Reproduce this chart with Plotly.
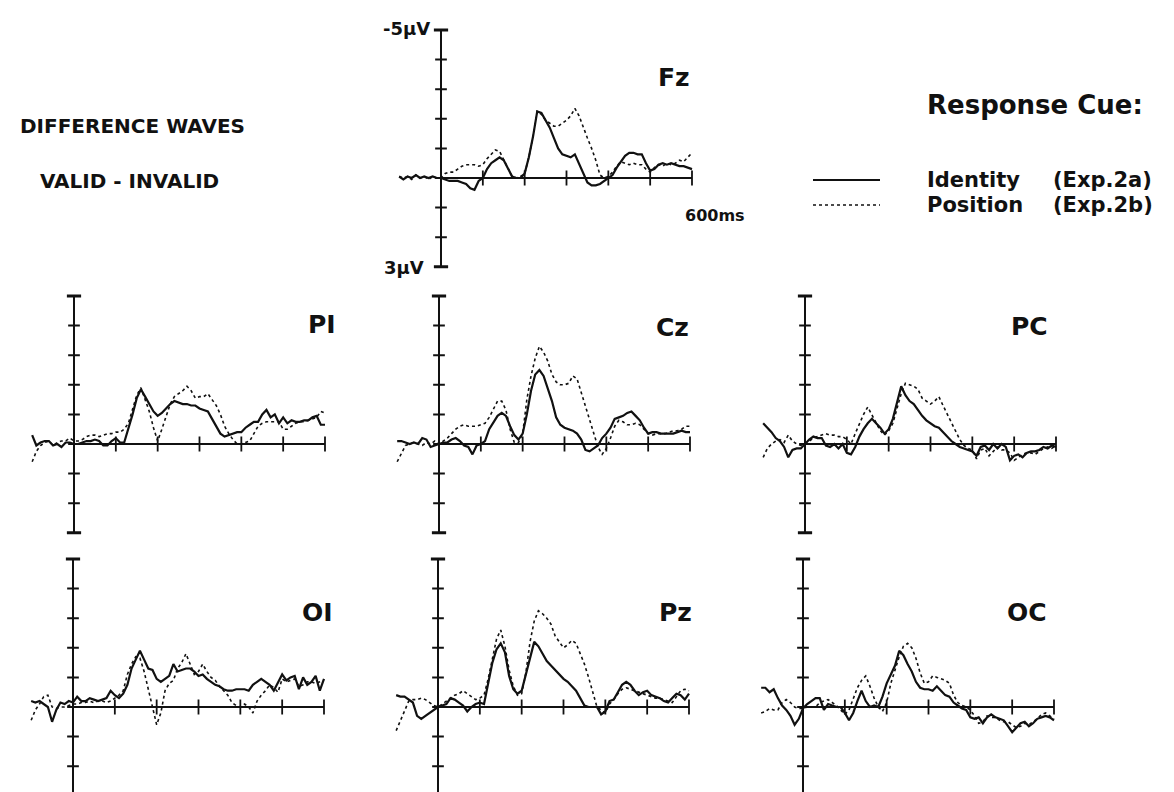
import plotly.graph_objects as go

W, H = 1174, 792

# ---------------- data ----------------
time_ms = list(range(-100, 601, 10))
time_ticks = [100, 200, 300, 400, 500, 600]
uv_ticks = [-5, -4, -3, -2, -1, 0, 1, 2, 3]

# values in microvolts (negative plotted upward)
fz_identity = [-0.05, 0.05, -0.05, 0.0, -0.1, 0.0, -0.05, 0.0, -0.05, 0.0, 0.0,
               0.05, 0.1, 0.1, 0.1, 0.15, 0.2, 0.35, 0.4, 0.1, 0.0,
               -0.3, -0.5, -0.6, -0.7, -0.6, -0.3, -0.05, 0.0, 0.0, -0.15,
               -0.7, -1.4, -2.25, -2.2, -1.95, -1.7, -1.35, -1.0, -0.8, -0.75,
               -0.7, -0.8, -0.5, -0.2, 0.15, 0.25, 0.25, 0.2, 0.1, 0.0,
               -0.1, -0.35, -0.55, -0.75, -0.85, -0.85, -0.8, -0.8, -0.5, -0.25,
               -0.3, -0.45, -0.5, -0.45, -0.5, -0.45, -0.4, -0.4, -0.35, -0.3]
fz_position = [-0.05, 0.0, -0.05, 0.05, -0.1, 0.0, -0.05, 0.05, -0.05, 0.0, 0.0,
               -0.15, -0.2, -0.2, -0.3, -0.4, -0.45, -0.45, -0.45, -0.4, -0.45,
               -0.65, -0.8, -0.95, -0.9, -0.6, -0.3, -0.05, 0.0, -0.05, -0.15,
               -0.7, -1.4, -2.25, -2.15, -1.95, -1.85, -1.75, -1.75, -1.85, -1.95,
               -2.1, -2.35, -2.1, -1.7, -1.35, -1.0, -0.6, -0.1, 0.0, -0.05,
               -0.2, -0.4, -0.55, -0.5, -0.45, -0.5, -0.45, -0.45, -0.3, -0.2,
               -0.35, -0.45, -0.4, -0.5, -0.45, -0.5, -0.6, -0.55, -0.7, -0.85]

pi_identity = [-0.3, 0.05, -0.05, -0.1, -0.1, 0.05, 0.0, 0.1, -0.05, -0.05, 0.0,
               0.0, -0.05, -0.1, -0.1, -0.15, -0.1, 0.05, 0.05, -0.1, -0.2,
               -0.05, -0.05, -0.5, -1.0, -1.55, -1.85, -1.6, -1.35, -1.1, -0.95,
               -1.05, -1.2, -1.35, -1.45, -1.4, -1.35, -1.35, -1.3, -1.3, -1.2,
               -1.15, -1.1, -0.85, -0.6, -0.35, -0.25, -0.3, -0.35, -0.4, -0.4,
               -0.55, -0.65, -0.75, -0.75, -1.0, -1.15, -0.9, -1.0, -0.7, -0.9,
               -0.7, -0.8, -0.75, -0.75, -0.8, -0.8, -0.9, -0.95, -0.65, -0.65]
pi_position = [0.6, 0.25, 0.05, -0.05, -0.1, 0.05, -0.05, -0.1, -0.1, -0.2, -0.1,
               -0.1, -0.15, -0.25, -0.3, -0.3, -0.25, -0.3, -0.35, -0.35, -0.4,
               -0.4, -0.5, -0.7, -1.2, -1.65, -1.9, -1.5, -1.1, -0.55, -0.1,
               -0.5, -0.95, -1.35, -1.6, -1.7, -1.8, -1.95, -1.8, -1.55, -1.6,
               -1.6, -1.7, -1.5, -1.3, -1.0, -0.6, -0.35, -0.15, 0.0, 0.0,
               -0.05, -0.1, -0.35, -0.6, -0.7, -0.75, -0.75, -0.75, -0.75, -0.5,
               -0.5, -0.6, -0.7, -0.75, -0.75, -0.8, -0.85, -0.9, -1.1, -1.05]

cz_identity = [-0.1, -0.1, -0.05, 0.0, -0.05, 0.0, -0.2, -0.15, 0.1, 0.05, 0.0,
               -0.05, -0.05, -0.15, -0.2, -0.1, 0.05, 0.1, 0.35, 0.05, 0.0,
               -0.1, -0.5, -0.75, -0.95, -1.05, -0.95, -0.6, -0.3, -0.15, -0.35,
               -1.0, -1.8, -2.35, -2.5, -2.3, -1.9, -1.45, -0.9, -0.65, -0.55,
               -0.5, -0.45, -0.35, -0.15, 0.2, 0.25, 0.15, 0.05, -0.2, -0.35,
               -0.55, -0.85, -0.9, -0.95, -1.05, -1.1, -0.95, -0.8, -0.55, -0.35,
               -0.4, -0.4, -0.35, -0.35, -0.35, -0.35, -0.4, -0.45, -0.4, -0.4]
cz_position = [0.6, 0.3, 0.05, 0.0, -0.05, 0.0, 0.05, -0.05, 0.0, -0.1, 0.0,
               -0.1, -0.2, -0.35, -0.5, -0.6, -0.65, -0.6, -0.6, -0.6, -0.65,
               -0.7, -0.9, -1.2, -1.45, -1.45, -1.15, -0.5, -0.05, -0.05, -0.35,
               -1.5, -2.3, -2.9, -3.3, -3.1, -2.8, -2.35, -2.1, -2.0, -2.0,
               -2.05, -2.3, -2.2, -1.75, -1.25, -0.8, -0.35, 0.1, 0.35, 0.15,
               -0.2, -0.6, -0.8, -0.75, -0.65, -0.65, -0.7, -0.65, -0.5, -0.35,
               -0.3, -0.35, -0.35, -0.35, -0.4, -0.45, -0.45, -0.5, -0.6, -0.6]

pc_identity = [-0.7, -0.55, -0.4, -0.2, -0.1, 0.1, 0.45, 0.2, 0.15, 0.15, 0.0,
               -0.15, -0.25, -0.2, -0.2, 0.05, 0.1, 0.0, 0.15, 0.0, 0.3,
               0.35, 0.1, -0.25, -0.5, -0.7, -0.85, -0.7, -0.55, -0.35, -0.5,
               -0.85, -1.4, -1.95, -1.65, -1.45, -1.35, -1.15, -0.95, -0.8, -0.7,
               -0.6, -0.55, -0.4, -0.25, -0.1, 0.0, 0.1, 0.15, 0.2, 0.25,
               0.4, 0.1, 0.05, 0.2, 0.0, 0.15, 0.0, 0.1, 0.55, 0.4,
               0.35, 0.45, 0.3, 0.25, 0.25, 0.2, 0.1, 0.15, 0.05, 0.1]
pc_position = [0.45, 0.15, 0.0, -0.1, -0.15, -0.05, -0.3, -0.1, 0.0, 0.05, 0.0,
               -0.1, -0.2, -0.25, -0.3, -0.35, -0.3, -0.3, -0.25, -0.25, -0.15,
               0.0, -0.35, -0.7, -1.0, -1.25, -1.0, -0.7, -0.45, -0.3, -0.45,
               -0.7, -1.2, -1.7, -2.05, -2.0, -1.95, -1.85, -1.55, -1.45, -1.35,
               -1.45, -1.6, -1.3, -1.0, -0.7, -0.45, -0.15, 0.05, 0.15, 0.2,
               0.5, 0.2, 0.15, 0.4, 0.25, 0.1, 0.2, 0.2, 0.3, 0.55,
               0.45, 0.35, 0.3, 0.3, 0.35, 0.25, 0.15, 0.1, 0.15, 0.05]

oi_identity = [-0.2, -0.15, -0.2, -0.1, 0.0, 0.5, 0.1, -0.15, -0.1, -0.2, -0.15,
               -0.35, -0.2, -0.2, -0.3, -0.25, -0.2, -0.25, -0.3, -0.55, -0.4,
               -0.3, -0.45, -0.75, -1.3, -1.6, -1.9, -1.6, -1.3, -1.25, -0.95,
               -0.85, -0.95, -1.05, -1.45, -1.2, -1.25, -1.3, -1.3, -1.2, -1.05,
               -1.1, -0.95, -0.85, -0.75, -0.7, -0.6, -0.55, -0.55, -0.6, -0.6,
               -0.6, -0.55, -0.75, -0.85, -0.95, -0.85, -0.75, -0.55, -0.8, -1.1,
               -0.9, -1.0, -1.05, -0.6, -1.0, -0.75, -0.85, -1.05, -0.55, -0.95]
oi_position = [0.45, 0.1, -0.1, -0.35, -0.4, 0.0, 0.05, 0.0, 0.0, -0.05, -0.1,
               -0.1, -0.15, -0.15, -0.2, -0.15, -0.2, -0.2, -0.15, -0.2, -0.3,
               -0.4, -0.55, -1.1, -1.45, -1.7, -1.65, -1.2, -0.6, 0.0, 0.6,
               0.2, -0.55, -0.8, -0.9, -1.3, -1.5, -1.8, -1.45, -1.1, -1.2,
               -1.45, -1.2, -1.0, -0.9, -0.7, -0.55, -0.4, -0.15, -0.05, 0.0,
               -0.1, 0.0, 0.2, -0.2, -0.4, -0.55, -0.75, -0.65, -0.5, -0.95,
               -0.85, -0.9, -0.95, -0.7, -0.75, -0.85, -0.85, -0.8, -0.85, -0.9]

pz_identity = [-0.4, -0.35, -0.35, -0.25, -0.15, 0.3, 0.4, 0.3, 0.2, 0.1, 0.0,
               -0.05, -0.1, -0.3, -0.25, -0.15, -0.05, 0.15, 0.0, -0.1, -0.15,
               -0.1, -0.8, -1.5, -1.95, -2.15, -1.85, -1.05, -0.6, -0.45, -0.55,
               -1.1, -1.75, -2.2, -2.05, -1.8, -1.55, -1.4, -1.25, -1.1, -0.95,
               -0.85, -0.7, -0.55, -0.3, -0.05, 0.0, 0.0, 0.0, 0.25, 0.15,
               -0.2, -0.25, -0.5, -0.75, -0.85, -0.75, -0.55, -0.4, -0.5, -0.55,
               -0.4, -0.35, -0.3, -0.2, -0.15, -0.3, -0.45, -0.4, -0.25, -0.45]
pz_position = [0.8, 0.45, 0.1, -0.2, -0.25, -0.25, -0.3, -0.25, -0.15, -0.05, 0.0,
               -0.1, -0.2, -0.3, -0.4, -0.45, -0.55, -0.45, -0.35, -0.25, -0.3,
               -0.4, -0.95, -1.65, -2.3, -2.6, -2.05, -1.25, -0.7, -0.4, -0.45,
               -1.15, -2.2, -2.9, -3.25, -3.15, -3.0, -2.8, -2.4, -2.2, -2.0,
               -2.1, -2.25, -2.15, -1.8, -1.45, -1.0, -0.5, 0.0, 0.1, 0.2,
               -0.1, -0.25, -0.45, -0.6, -0.65, -0.6, -0.55, -0.5, -0.45, -0.4,
               -0.35, -0.3, -0.3, -0.25, -0.2, -0.15, -0.35, -0.55, -0.6, -0.55]

oc_identity = [-0.65, -0.65, -0.5, -0.6, -0.3, -0.05, 0.1, 0.3, 0.6, 0.4, 0.05,
               -0.1, -0.2, -0.3, -0.3, 0.1, -0.1, -0.05, 0.0, 0.0, 0.2,
               0.45, 0.2, -0.2, -0.55, -0.2, 0.0, -0.05, 0.0, -0.35, -0.8,
               -1.1, -1.4, -1.9, -1.75, -1.45, -1.2, -0.85, -0.65, -0.6, -0.6,
               -0.55, -0.7, -0.55, -0.4, -0.35, -0.15, -0.05, 0.05, 0.1, 0.35,
               0.4, 0.35, 0.55, 0.35, 0.25, 0.35, 0.4, 0.45, 0.65, 0.85,
               0.7, 0.55, 0.5, 0.65, 0.55, 0.4, 0.35, 0.3, 0.35, 0.45]
oc_position = [0.2, 0.15, 0.05, 0.1, 0.1, -0.15, -0.25, -0.15, 0.0, 0.05, 0.05,
               0.0, 0.0, 0.0, -0.15, -0.2, -0.25, -0.15, -0.05, 0.1, 0.25,
               0.1, -0.3, -0.65, -0.9, -1.05, -0.7, -0.3, 0.0, 0.15, -0.15,
               -0.8, -1.25, -1.7, -2.05, -2.15, -2.0, -1.65, -1.15, -0.8, -0.85,
               -1.05, -1.0, -0.95, -0.9, -0.8, -0.4, -0.15, -0.05, 0.0, 0.1,
               0.3, 0.55, 0.5, 0.3, 0.35, 0.35, 0.45, 0.5, 0.5, 0.6,
               0.7, 0.65, 0.55, 0.6, 0.5, 0.4, 0.25, 0.2, 0.3, 0.4]

channels = ["Fz", "PI", "Cz", "PC", "OI", "Pz", "OC"]
identity_series = [fz_identity, pi_identity, cz_identity, pc_identity,
                   oi_identity, pz_identity, oc_identity]
position_series = [fz_position, pi_position, cz_position, pc_position,
                   oi_position, pz_position, oc_position]

# ---------------- layout geometry (pixels) ----------------
PX_PER_MS = 251.0 / 600.0
PX_PER_UV = 29.6
X_RANGE = [-112, 612]
Y_RANGE = [3.12, -5.12]          # reversed: negative up

# (pixel x of time 0, pixel y of -5 uV, label left px, label center y px)
geom = {
    "Fz": (433, 22, 648, 69),
    "PI": (66, 288, 298, 316),
    "Cz": (431, 288, 646, 320),
    "PC": (797, 288, 1001, 318),
    "OI": (65, 551, 292, 604),
    "Pz": (430, 551, 649, 604),
    "OC": (795, 551, 997, 604),
}


def fx(px):
    return px / W


def fy(py):
    return 1 - py / H


fig = go.Figure()
shapes = []
annotations = []
layout_axes = {}
black = "#111111"
FONT = "DejaVu Sans, Liberation Sans, Arial, sans-serif"

for i, ch in enumerate(channels):
    n = i + 1
    xa = "x" if n == 1 else f"x{n}"
    ya = "y" if n == 1 else f"y{n}"
    x0, ytop, lx, ly = geom[ch]
    left_px = x0 + X_RANGE[0] * PX_PER_MS
    right_px = x0 + X_RANGE[1] * PX_PER_MS
    top_px = ytop + (Y_RANGE[1] + 5) * PX_PER_UV
    bot_px = ytop + (Y_RANGE[0] + 5) * PX_PER_UV
    layout_axes["xaxis" if n == 1 else f"xaxis{n}"] = dict(
        domain=[fx(left_px), fx(right_px)], range=X_RANGE, visible=False,
        anchor=ya, fixedrange=True)
    layout_axes["yaxis" if n == 1 else f"yaxis{n}"] = dict(
        domain=[fy(bot_px), fy(top_px)], range=Y_RANGE, visible=False,
        anchor=xa, fixedrange=True)

    fig.add_trace(go.Scatter(x=time_ms, y=position_series[i], mode="lines",
                             line=dict(color=black, width=1.6, dash="dot"),
                             xaxis=xa, yaxis=ya, showlegend=False,
                             name="Position (Exp.2b)"))
    fig.add_trace(go.Scatter(x=time_ms, y=identity_series[i], mode="lines",
                             line=dict(color=black, width=2.2),
                             xaxis=xa, yaxis=ya, showlegend=False,
                             name="Identity (Exp.2a)"))

    # vertical (voltage) axis
    shapes.append(dict(type="line", xref=xa, yref=ya, x0=0, x1=0,
                       y0=uv_ticks[0], y1=uv_ticks[-1],
                       line=dict(color=black, width=2), layer="below"))
    for k, u in enumerate(uv_ticks):
        cap = k in (0, len(uv_ticks) - 1)
        half = 17 if cap else 14
        shapes.append(dict(type="line", xref=xa, yref=ya, x0=-half, x1=half,
                           y0=u, y1=u,
                           line=dict(color=black, width=3 if cap else 2),
                           layer="below"))
    # horizontal (time) axis
    shapes.append(dict(type="line", xref=xa, yref=ya, x0=0, x1=time_ticks[-1],
                       y0=0, y1=0, line=dict(color=black, width=2),
                       layer="below"))
    for t in time_ticks:
        shapes.append(dict(type="line", xref=xa, yref=ya, x0=t, x1=t,
                           y0=-0.25, y1=0.25, line=dict(color=black, width=1.8),
                           layer="below"))

    annotations.append(dict(text=f"<b>{ch}</b>", xref="paper", yref="paper",
                            x=fx(lx), y=fy(ly), xanchor="left",
                            yanchor="middle", showarrow=False,
                            font=dict(size=25, color=black, family=FONT)))


def add_text(txt, px, py, size, xanchor="left"):
    annotations.append(dict(text=f"<b>{txt}</b>", xref="paper", yref="paper",
                            x=fx(px), y=fy(py), xanchor=xanchor,
                            yanchor="middle", showarrow=False,
                            font=dict(size=size, color=black, family=FONT)))


add_text("DIFFERENCE WAVES", 124, 118, 20, "center")
add_text("VALID - INVALID", 121, 173, 20, "center")
add_text("Response Cue:", 917, 97, 26)
add_text("Identity", 917, 172, 21)
add_text("(Exp.2a)", 1043, 172, 21)
add_text("Position", 917, 197, 21)
add_text("(Exp.2b)", 1043, 197, 21)
add_text("600ms", 675, 207, 16)
add_text("-5µV", 424, 21, 18, "right")
add_text("3µV", 418, 259, 18, "right")

# legend samples
shapes.append(dict(type="line", xref="paper", yref="paper",
                   x0=fx(805), x1=fx(872), y0=fy(172), y1=fy(172),
                   line=dict(color=black, width=2)))
shapes.append(dict(type="line", xref="paper", yref="paper",
                   x0=fx(805), x1=fx(872), y0=fy(197), y1=fy(197),
                   line=dict(color=black, width=1.6, dash="dot")))

fig.update_layout(
    width=W, height=H, autosize=False,
    margin=dict(l=0, r=0, t=0, b=0, pad=0),
    paper_bgcolor="white", plot_bgcolor="white",
    font=dict(family=FONT, color=black),
    showlegend=False,
    shapes=shapes, annotations=annotations,
    **layout_axes,
)

fig.write_html("out.html")
